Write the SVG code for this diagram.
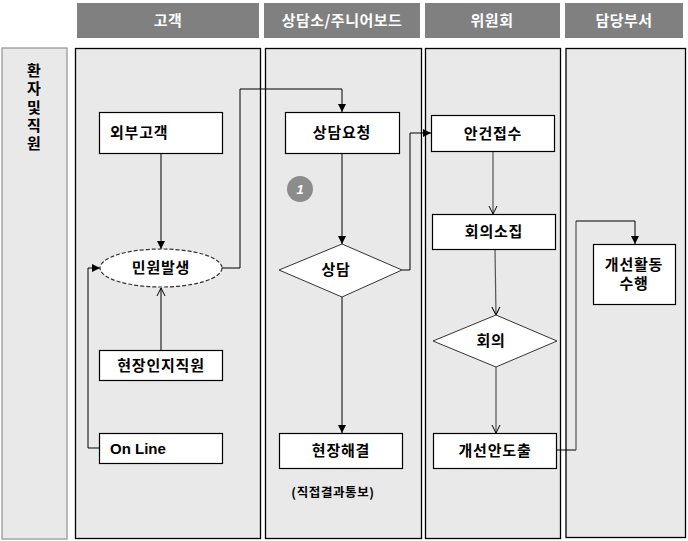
<svg xmlns="http://www.w3.org/2000/svg" width="688" height="541" viewBox="0 0 688 541">
<style>
.hdr{fill:#808080}
.hdrt{fill:#fff;font-family:"Noto Sans CJK KR","Liberation Sans",sans-serif;font-size:15px;font-weight:bold;text-anchor:middle;letter-spacing:0.5px}
.lane{fill:#e9e9e9;stroke:#000;stroke-width:1.3}
.side{fill:#e9e9e9;stroke:#999;stroke-width:1.3}
.box{fill:#fff;stroke:#000;stroke-width:1.2}
.t{font-family:"Noto Sans CJK KR","Liberation Sans",sans-serif;font-size:15px;font-weight:bold;text-anchor:middle;fill:#000;letter-spacing:0.8px}
.c{fill:none;stroke:#000;stroke-width:1}
.cg{fill:none;stroke:#555;stroke-width:1.2}
</style>
<defs>
<marker id="af" markerWidth="10" markerHeight="10" refX="9" refY="5" orient="auto" markerUnits="userSpaceOnUse"><path d="M1,1 L9,5 L1,9 Z" fill="#000"/></marker>
<marker id="ao" markerWidth="10" markerHeight="10" refX="9" refY="5" orient="auto" markerUnits="userSpaceOnUse"><path d="M1,1 L9,5 L1,9" fill="none" stroke="#000" stroke-width="1"/></marker>
</defs>
<rect width="688" height="541" fill="#fff"/>
<g id="headers">
<rect class="hdr" x="77" y="3" width="182" height="35"/>
<text class="hdrt" x="168" y="26">고객</text>
<rect class="hdr" x="264" y="3" width="156" height="35"/>
<text class="hdrt" x="342" y="26">상담소/주니어보드</text>
<rect class="hdr" x="425" y="3" width="135" height="35"/>
<text class="hdrt" x="492" y="26">위원회</text>
<rect class="hdr" x="565" y="3" width="118" height="35"/>
<text class="hdrt" x="624" y="26">담당부서</text>
</g>
<g id="lanes">
<rect class="side" x="2" y="48" width="65" height="491"/>
<rect class="lane" x="75.5" y="48.5" width="185" height="490"/>
<rect class="lane" x="265.5" y="48.5" width="156" height="490"/>
<rect class="lane" x="425.5" y="48.5" width="135" height="490"/>
<rect class="lane" x="566" y="48.5" width="119.5" height="489"/>
<text x="34" y="63" style="writing-mode:vertical-rl;letter-spacing:3.2px;font-family:'Noto Sans CJK KR','Liberation Sans',sans-serif;font-size:15px;font-weight:bold" fill="#000">환자및직원</text>
</g>
<g id="connectors">
<path class="c" d="M161,153 V249" marker-end="url(#af)"/>
<path class="c" d="M161,350 V288" marker-end="url(#ao)"/>
<path class="c" d="M99,448 H88 V268 H100" marker-end="url(#af)"/>
<path class="c" d="M222,268 H240 V89 H342 V112" marker-end="url(#af)"/>
<path class="c" d="M342,153 V244" marker-end="url(#af)"/>
<path class="c" d="M342,297 V433" marker-end="url(#af)"/>
<path class="c" d="M402,270 H410 V133 H431" marker-end="url(#af)"/>
<path class="cg" d="M493,151 V214" marker-end="url(#ao)"/>
<path class="cg" d="M495,249 L496,315" marker-end="url(#ao)"/>
<path class="cg" d="M496,367 V433" marker-end="url(#ao)"/>
<path class="c" d="M557,450 H576" />
<path class="cg" d="M576,450 V221"/>
<path class="c" d="M576,221 H635 V244" marker-end="url(#af)"/>
</g>
<g id="n-oebu"><rect class="box" x="99.5" y="112.5" width="123" height="41"/><text class="t" x="110" y="138" style="text-anchor:start">외부고객</text></g>
<g id="n-sangdamyocheong"><rect class="box" x="285.5" y="112.5" width="114" height="41"/><text class="t" x="342" y="138">상담요청</text></g>
<g id="n-angeon"><rect class="box" x="431.5" y="115.5" width="123" height="36"/><text class="t" x="493" y="139">안건접수</text></g>
<g id="n-badge"><circle cx="300" cy="189" r="13" fill="#8c8c8c"/><text x="300" y="194" font-family="Liberation Sans,Arial,sans-serif" font-size="13" font-weight="bold" font-style="italic" fill="#fff" text-anchor="middle">1</text></g>
<g id="n-minwon"><ellipse cx="161" cy="268" rx="61" ry="19" fill="#fff" stroke="#333" stroke-width="1.2" stroke-dasharray="4,2"/><text class="t" x="161" y="273">민원발생</text></g>
<g id="n-sangdam"><path d="M342,244 L402,270 L342,297 L279,270 Z" fill="#fff" stroke="#333" stroke-width="1"/><text class="t" x="336" y="275">상담</text></g>
<g id="n-hyeonjang"><rect class="box" x="99.5" y="350.5" width="123" height="30"/><text class="t" x="161" y="371">현장인지직원</text></g>
<g id="n-online"><rect class="box" x="99.5" y="433.5" width="123" height="30"/><text x="110" y="454" font-family="Liberation Sans,Arial,sans-serif" font-size="15" font-weight="bold">On Line</text></g>
<g id="n-haegyeol"><rect class="box" x="279.5" y="433.5" width="123" height="35"/><text class="t" x="341" y="456">현장해결</text></g>
<text x="333" y="497" font-family="Noto Sans CJK KR,Liberation Sans,sans-serif" font-size="12.5" font-weight="bold" letter-spacing="0.6" text-anchor="middle">(직접결과통보)</text>
<g id="n-sojip"><rect class="box" x="432.5" y="214.5" width="123" height="35"/><text class="t" x="494" y="237">회의소집</text></g>
<g id="n-hoeui"><path d="M496,315 L557,341 L496,367 L433,341 Z" fill="#fff" stroke="#333" stroke-width="1"/><text class="t" x="491" y="346">회의</text></g>
<g id="n-doochul"><rect class="box" x="433.5" y="433.5" width="123" height="35"/><text class="t" x="495" y="456">개선안도출</text></g>
<g id="n-suhaeng"><rect class="box" x="593.5" y="244.5" width="82" height="60"/><text class="t" x="634" y="270">개선활동</text><text class="t" x="634" y="289">수행</text></g>
</svg>
